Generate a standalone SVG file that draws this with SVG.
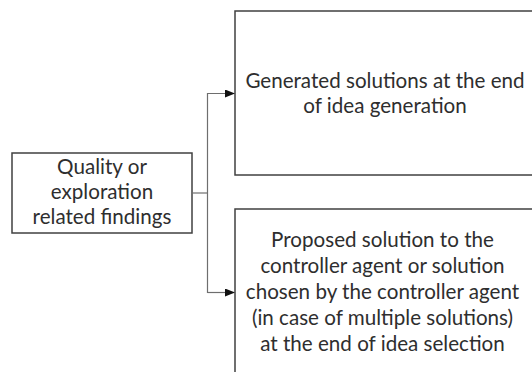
<svg xmlns="http://www.w3.org/2000/svg" width="532" height="372" viewBox="0 0 532 372">
  <style>
    .box { fill: #ffffff; stroke: #404040; stroke-width: 1.5; }
    .wire { fill: none; stroke: #6e6e6e; stroke-width: 1.2; }
    .label { font-family: Lato, "Open Sans", "Liberation Sans", sans-serif; font-size: 20.6px; fill: #2e2e2e; text-anchor: middle; }
  </style>
  <defs>
    <marker id="arrow" viewBox="0 0 10 8" refX="10" refY="4" markerWidth="10" markerHeight="8" markerUnits="userSpaceOnUse" orient="auto">
      <path d="M0,0 L10,4 L0,8 Z" fill="#111111"/>
    </marker>
  </defs>
  <rect width="532" height="372" fill="#ffffff"/>

  <g id="findings">
    <rect class="box" x="12" y="153" width="180" height="80"/>
    <text class="label" x="102" y="174">Quality or</text>
    <text class="label" x="102" y="199">exploration</text>
    <text class="label" x="102" y="224">related findings</text>
  </g>

  <g id="generation">
    <rect class="box" x="235" y="11" width="310" height="164"/>
    <text class="label" x="385" y="88">Generated solutions at the end</text>
    <text class="label" x="385" y="113">of idea generation</text>
  </g>

  <g id="selection">
    <rect class="box" x="235" y="209" width="310" height="180"/>
    <text class="label" x="382.5" y="247">Proposed solution to the</text>
    <text class="label" x="382.5" y="273">controller agent or solution</text>
    <text class="label" x="382.5" y="299">chosen by the controller agent</text>
    <text class="label" x="382.5" y="325">(in case of multiple solutions)</text>
    <text class="label" x="382.5" y="351">at the end of idea selection</text>
  </g>

  <g id="connectors">
    <path class="wire" d="M192,193 H207.5"/>
    <path class="wire" d="M207.5,293 V93.5 H235" marker-end="url(#arrow)"/>
    <path class="wire" d="M207.5,292.5 H235" marker-end="url(#arrow)"/>
  </g>
</svg>
